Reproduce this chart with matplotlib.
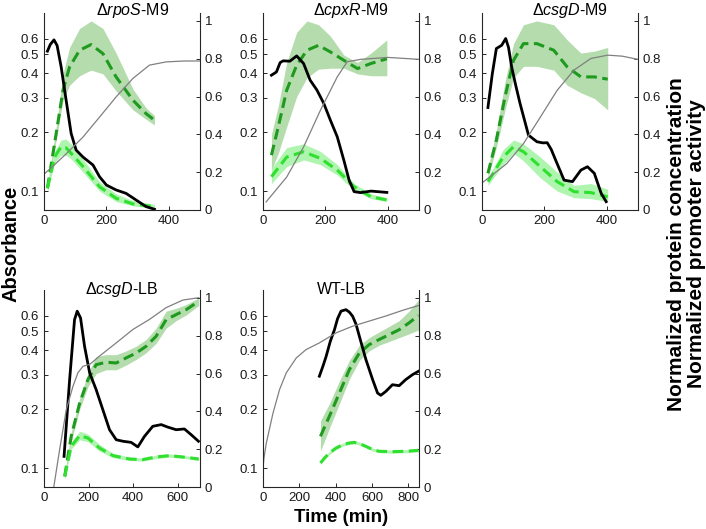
import matplotlib
matplotlib.use('Agg')
import matplotlib.pyplot as plt
from matplotlib.ticker import NullLocator

plt.rcParams['font.family'] = ['Liberation Sans', 'DejaVu Sans']
plt.rcParams['mathtext.fontset'] = 'custom'
plt.rcParams['mathtext.rm'] = 'Liberation Sans'
plt.rcParams['mathtext.it'] = 'Liberation Sans:italic'

# ---- dRpoS-M9 ----
rpos_gray_t = [0, 35, 71, 125, 178, 231, 285, 338, 391, 450, 500]
rpos_gray = [0.122, 0.137, 0.155, 0.189, 0.239, 0.303, 0.377, 0.441, 0.458, 0.463, 0.463]
rpos_black_t = [11, 20, 32, 42, 55, 71, 87, 103, 125, 157, 178, 200, 231, 263, 295, 327, 354]
rpos_black = [0.84, 0.875, 0.90, 0.87, 0.757, 0.58, 0.405, 0.317, 0.28, 0.238, 0.176, 0.132,
              0.106, 0.088, 0.053, 0.018, 0.004]
rpos_dg_t = [11, 39, 61, 82, 114, 151, 189, 231, 285, 327, 354]
rpos_dg = [0.115, 0.405, 0.634, 0.757, 0.845, 0.875, 0.827, 0.704, 0.581, 0.51, 0.475]
rpos_dg_lo = [0.10, 0.37, 0.58, 0.66, 0.71, 0.74, 0.72, 0.63, 0.53, 0.48, 0.45]
rpos_dg_hi = [0.13, 0.44, 0.72, 0.86, 0.96, 1.00, 0.96, 0.83, 0.64, 0.54, 0.50]
rpos_lg_t = [11, 34, 55, 70, 87, 125, 178, 231, 285, 354]
rpos_lg = [0.115, 0.28, 0.335, 0.33, 0.30, 0.23, 0.123, 0.062, 0.032, 0.018]
rpos_lg_lo = [0.10, 0.25, 0.29, 0.29, 0.27, 0.20, 0.10, 0.045, 0.022, 0.008]
rpos_lg_hi = [0.13, 0.31, 0.37, 0.375, 0.35, 0.27, 0.15, 0.085, 0.05, 0.03]

# ---- dCpxR-M9 ----
cpxr_gray_t = [10, 76, 130, 184, 238, 270, 313, 400, 500]
cpxr_gray = [0.088, 0.118, 0.168, 0.259, 0.384, 0.459, 0.472, 0.483, 0.472]
cpxr_black_t = [27, 43, 55, 65, 86, 108, 130, 151, 173, 195, 216, 238, 259, 276, 292, 313, 346, 397]
cpxr_black = [0.713, 0.73, 0.78, 0.789, 0.787, 0.815, 0.775, 0.687, 0.634, 0.563, 0.475, 0.387,
              0.264, 0.158, 0.097, 0.092, 0.10, 0.093]
cpxr_dg_t = [27, 49, 76, 108, 141, 178, 216, 259, 303, 346, 397]
cpxr_dg = [0.29, 0.44, 0.634, 0.766, 0.845, 0.871, 0.836, 0.792, 0.748, 0.775, 0.80]
cpxr_dg_lo = [0.21, 0.30, 0.44, 0.60, 0.70, 0.745, 0.75, 0.75, 0.72, 0.71, 0.71]
cpxr_dg_hi = [0.40, 0.55, 0.78, 0.94, 1.00, 0.98, 0.92, 0.82, 0.78, 0.83, 0.90]
cpxr_lg_t = [27, 76, 130, 184, 238, 292, 346, 397]
cpxr_lg = [0.176, 0.28, 0.308, 0.273, 0.211, 0.123, 0.07, 0.053]
cpxr_lg_lo = [0.14, 0.23, 0.265, 0.24, 0.185, 0.105, 0.06, 0.045]
cpxr_lg_hi = [0.22, 0.33, 0.35, 0.31, 0.24, 0.14, 0.085, 0.065]

# ---- dCsgD-M9 ----
csgm_gray_t = [0, 79, 133, 187, 241, 295, 349, 403, 450, 500]
csgm_gray = [0.110, 0.138, 0.175, 0.239, 0.328, 0.416, 0.477, 0.496, 0.49, 0.472]
csgm_black_t = [19, 33, 46, 63, 76, 85, 95, 108, 122, 149, 176, 195, 209, 222, 236, 263, 290,
                317, 338, 360, 382, 398]
csgm_black = [0.542, 0.72, 0.854, 0.871, 0.907, 0.86, 0.757, 0.66, 0.563, 0.396, 0.361, 0.355,
              0.356, 0.32, 0.264, 0.158, 0.15, 0.211, 0.229, 0.194, 0.088, 0.044]
csgm_dg_t = [19, 46, 74, 101, 133, 176, 230, 273, 317, 360, 403]
csgm_dg = [0.194, 0.37, 0.60, 0.792, 0.88, 0.88, 0.845, 0.757, 0.704, 0.704, 0.692]
csgm_dg_lo = [0.17, 0.33, 0.53, 0.70, 0.76, 0.76, 0.74, 0.66, 0.62, 0.59, 0.53]
csgm_dg_hi = [0.22, 0.42, 0.68, 0.88, 0.98, 1.00, 0.98, 0.90, 0.83, 0.84, 0.86]
csgm_lg_t = [19, 68, 101, 133, 187, 241, 295, 349, 403]
csgm_lg = [0.15, 0.28, 0.335, 0.308, 0.229, 0.15, 0.097, 0.092, 0.07]
csgm_lg_lo = [0.13, 0.24, 0.30, 0.26, 0.17, 0.10, 0.065, 0.06, 0.045]
csgm_lg_hi = [0.17, 0.32, 0.37, 0.35, 0.28, 0.20, 0.13, 0.14, 0.11]

# ---- dCsgD-LB ----
csgl_gray_t = [40, 70, 100, 130, 152, 175, 205, 249, 324, 399, 473, 548, 623, 694]
csgl_gray = [0.075, 0.124, 0.199, 0.262, 0.307, 0.332, 0.339, 0.374, 0.437, 0.512, 0.576,
             0.662, 0.724, 0.744]
csgl_black_t = [90, 115, 137, 149, 164, 182, 205, 234, 264, 294, 324, 354, 391, 421, 451, 488,
                526, 555, 593, 630, 660, 693]
csgl_black = [0.162, 0.568, 0.885, 0.93, 0.894, 0.744, 0.603, 0.515, 0.409, 0.303, 0.25, 0.242,
              0.236, 0.212, 0.268, 0.321, 0.33, 0.317, 0.303, 0.307, 0.277, 0.242]
csgl_dg_t = [93, 122, 160, 197, 234, 279, 324, 369, 414, 458, 503, 548, 593, 638, 694]
csgl_dg = [0.056, 0.268, 0.444, 0.568, 0.647, 0.66, 0.656, 0.683, 0.709, 0.744, 0.797, 0.885,
           0.912, 0.938, 0.982]
csgl_dg_lo = [0.04, 0.24, 0.41, 0.53, 0.60, 0.62, 0.62, 0.645, 0.675, 0.71, 0.76, 0.84, 0.88,
              0.91, 0.96]
csgl_dg_hi = [0.07, 0.29, 0.47, 0.60, 0.69, 0.70, 0.70, 0.72, 0.745, 0.78, 0.84, 0.93, 0.945,
              0.965, 1.0]
csgl_lg_t = [93, 122, 160, 197, 249, 309, 384, 443, 503, 563, 638, 694]
csgl_lg = [0.056, 0.215, 0.272, 0.259, 0.206, 0.166, 0.148, 0.145, 0.159, 0.166, 0.157, 0.148]
csgl_lg_lo = [0.045, 0.20, 0.25, 0.24, 0.19, 0.155, 0.14, 0.137, 0.15, 0.158, 0.15, 0.14]
csgl_lg_hi = [0.07, 0.235, 0.295, 0.28, 0.225, 0.178, 0.158, 0.153, 0.168, 0.175, 0.165, 0.157]

# ---- WT-LB ----
wt_gray_t = [0, 5, 18, 55, 91, 128, 183, 237, 310, 402, 493, 584, 676, 767, 858]
wt_gray = [0.1, 0.112, 0.134, 0.191, 0.252, 0.307, 0.366, 0.404, 0.437, 0.492, 0.532, 0.565,
           0.60, 0.641, 0.68]
wt_black_t = [310, 330, 347, 370, 393, 410, 429, 456, 475, 493, 512, 530, 566, 603, 630, 648,
              676, 712, 749, 785, 822, 855]
wt_black = [0.586, 0.64, 0.69, 0.77, 0.832, 0.89, 0.93, 0.938, 0.925, 0.903, 0.86, 0.797,
            0.674, 0.568, 0.497, 0.485, 0.506, 0.541, 0.536, 0.568, 0.594, 0.612]
wt_dg_t = [316, 365, 420, 475, 530, 584, 639, 694, 749, 803, 855]
wt_dg = [0.268, 0.374, 0.497, 0.621, 0.709, 0.753, 0.78, 0.806, 0.832, 0.868, 0.907]
wt_dg_lo = [0.19, 0.31, 0.44, 0.57, 0.67, 0.72, 0.75, 0.77, 0.79, 0.81, 0.83]
wt_dg_hi = [0.35, 0.44, 0.56, 0.67, 0.75, 0.79, 0.82, 0.85, 0.88, 0.93, 0.99]
wt_lg_t = [316, 340, 365, 400, 438, 475, 502, 530, 566, 603, 639, 712, 785, 855]
wt_lg = [0.127, 0.155, 0.18, 0.205, 0.224, 0.233, 0.236, 0.23, 0.215, 0.198, 0.189, 0.187,
         0.189, 0.194]
wt_lg_lo = [0.119, 0.147, 0.172, 0.197, 0.216, 0.225, 0.228, 0.222, 0.207, 0.19, 0.181, 0.179,
            0.181, 0.186]
wt_lg_hi = [0.135, 0.163, 0.188, 0.213, 0.232, 0.241, 0.244, 0.238, 0.223, 0.206, 0.197, 0.195,
            0.197, 0.202]

titles = [r'$\Delta\mathit{rpoS}$-M9', r'$\Delta\mathit{cpxR}$-M9', r'$\Delta\mathit{csgD}$-M9',
          r'$\Delta\mathit{csgD}$-LB', 'WT-LB']
xlims = [500, 500, 500, 700, 858]
xticks = [[0, 200, 400], [0, 200, 400], [0, 200, 400], [0, 200, 400, 600],
          [0, 200, 400, 600, 800]]
abs_ticks = [0.1, 0.2, 0.3, 0.4, 0.5, 0.6]
norm_ticks = [0, 0.2, 0.4, 0.6, 0.8, 1]

panels = [
    (rpos_gray_t, rpos_gray, rpos_black_t, rpos_black, rpos_dg_t, rpos_dg, rpos_dg_lo, rpos_dg_hi,
     rpos_lg_t, rpos_lg, rpos_lg_lo, rpos_lg_hi),
    (cpxr_gray_t, cpxr_gray, cpxr_black_t, cpxr_black, cpxr_dg_t, cpxr_dg, cpxr_dg_lo, cpxr_dg_hi,
     cpxr_lg_t, cpxr_lg, cpxr_lg_lo, cpxr_lg_hi),
    (csgm_gray_t, csgm_gray, csgm_black_t, csgm_black, csgm_dg_t, csgm_dg, csgm_dg_lo, csgm_dg_hi,
     csgm_lg_t, csgm_lg, csgm_lg_lo, csgm_lg_hi),
    (csgl_gray_t, csgl_gray, csgl_black_t, csgl_black, csgl_dg_t, csgl_dg, csgl_dg_lo, csgl_dg_hi,
     csgl_lg_t, csgl_lg, csgl_lg_lo, csgl_lg_hi),
    (wt_gray_t, wt_gray, wt_black_t, wt_black, wt_dg_t, wt_dg, wt_dg_lo, wt_dg_hi,
     wt_lg_t, wt_lg, wt_lg_lo, wt_lg_hi),
]

W, H = 706, 529
fig = plt.figure(figsize=(W / 100, H / 100), dpi=100)

# axes boxes in pixels: left, top
boxes = [(44, 13), (263, 13), (482, 13), (44, 290), (263, 290)]
aw, ah = 156, 197
axis_col = '#262626'
dark_green = '#1e9a1e'
dark_band = '#acd9a4'
light_green = '#2fe02f'
light_band = '#a6f3a6'

for i, (box, p) in enumerate(zip(boxes, panels)):
    gt, gv, bt, bv, dt, dv, dlo, dhi, lt, lv, llo, lhi = p
    left, top = box
    rect = [left / W, 1 - (top + ah) / H, aw / W, ah / H]
    ax = fig.add_axes(rect)
    ax2 = ax.twinx()

    ax2.fill_between(dt, dlo, dhi, color=dark_band, lw=0, alpha=0.9)
    ax2.fill_between(lt, llo, lhi, color=light_band, lw=0, alpha=0.9)
    ax2.plot(dt, dv, color=dark_green, lw=2.2, dashes=(3.5, 1.8))
    ax2.plot(lt, lv, color=light_green, lw=2.2, dashes=(3.5, 1.8))
    ax2.plot(bt, bv, color='black', lw=2.0)
    ax2.set_ylim(0, 1.042)
    ax2.set_yticks(norm_ticks)
    ax2.set_yticklabels(['0', '0.2', '0.4', '0.6', '0.8', '1'])

    ax.plot(gt, gv, color='#808080', lw=0.9)
    ax.set_yscale('log')
    ax.set_ylim(0.08, 0.815)
    ax.set_yticks(abs_ticks)
    ax.set_yticklabels(['0.1', '0.2', '0.3', '0.4', '0.5', '0.6'])
    ax.yaxis.set_minor_locator(NullLocator())
    ax.set_xlim(0, xlims[i])
    ax.set_xticks(xticks[i])
    ax.xaxis.set_minor_locator(NullLocator())

    ax.set_zorder(ax2.get_zorder() + 1)
    ax.patch.set_visible(False)

    for a in (ax, ax2):
        a.spines['top'].set_visible(False)
        for s in a.spines.values():
            s.set_color(axis_col)
            s.set_linewidth(0.8)
        a.tick_params(direction='in', length=3, width=0.7, colors=axis_col,
                      labelsize=9.5, labelcolor='#1a1a1a')
    ax2.spines['left'].set_visible(False)
    ax2.spines['bottom'].set_visible(False)
    ax.spines['right'].set_visible(False)

    if i < 3:
        ax.text(0.565, 0.99, titles[i], transform=ax.transAxes, ha='center', va='baseline',
                fontsize=11.5)
    else:
        ax.text(0.5, 0.98, titles[i], transform=ax.transAxes, ha='center', va='baseline',
                fontsize=11.5)

fig.text(11 / W, 1 - 244 / H, 'Absorbance', rotation=90, ha='center', va='center',
         fontsize=14.5, fontweight='bold')
fig.text(676 / W, 1 - 244 / H, 'Normalized protein concentration', rotation=90, ha='center',
         va='center', fontsize=15, fontweight='bold')
fig.text(697 / W, 1 - 244 / H, 'Normalized promoter activity', rotation=90, ha='center',
         va='center', fontsize=15, fontweight='bold')
fig.text(341 / W, 1 - 517 / H, 'Time (min)', ha='center', va='center', fontsize=13.5,
         fontweight='bold')

fig.savefig('out.png', dpi=100)
